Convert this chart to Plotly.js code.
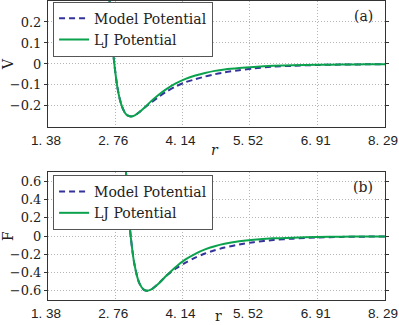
<!DOCTYPE html>
<html>
<head>
<meta charset="utf-8">
<script src="https://cdn.plot.ly/plotly-3.0.1.min.js"></script>
<style>
  html, body { margin: 0; padding: 0; background: #fff; }
  #grafico { width: 399px; height: 325px; }
</style>
</head>
<body>
<div id="grafico"></div>
<script>
// (a) potencial V(r)
const rV = [2.60, 2.65, 2.70, 2.74, 2.80, 2.85, 2.90, 2.95, 3.00, 3.08, 3.15, 3.25, 3.35, 3.50, 3.65,
            3.80, 4.00, 4.20, 4.40, 4.60, 4.80, 5.00, 5.30, 5.60, 6.00, 6.40, 6.90, 7.40, 7.90, 8.29];
const vLJ = [0.507, 0.271, 0.101, 0, -0.107, -0.166, -0.205, -0.230, -0.244, -0.250, -0.246, -0.230, -0.210, -0.177, -0.147,
             -0.121, -0.093, -0.071, -0.055, -0.043, -0.033, -0.026, -0.019, -0.014, -0.009, -0.006, -0.004, -0.003, -0.002, -0.001];
const vModel = [0.507, 0.271, 0.101, 0, -0.107, -0.166, -0.205, -0.230, -0.244, -0.250, -0.246, -0.230, -0.210, -0.183, -0.157,
                -0.133, -0.107, -0.087, -0.073, -0.060, -0.049, -0.040, -0.030, -0.021, -0.013, -0.009, -0.005, -0.003, -0.002, -0.0015];

// (b) fuerza F(r)
const rF = [2.90, 2.93, 2.96, 3.00, 3.04, 3.08, 3.15, 3.25, 3.35, 3.41, 3.50, 3.65, 3.80, 4.00,
            4.20, 4.40, 4.60, 4.80, 5.00, 5.30, 5.60, 6.00, 6.40, 6.90, 7.40, 7.90, 8.29];
const fLJ = [1.705, 1.267, 0.903, 0.512, 0.209, -0.023, -0.302, -0.512, -0.589, -0.599, -0.584, -0.518, -0.437, -0.337,
             -0.255, -0.193, -0.145, -0.110, -0.084, -0.057, -0.039, -0.024, -0.016, -0.009, -0.006, -0.004, -0.003];
const fModel = [1.705, 1.267, 0.903, 0.512, 0.209, -0.023, -0.302, -0.512, -0.589, -0.599, -0.584, -0.518, -0.437, -0.355,
                -0.290, -0.235, -0.190, -0.155, -0.125, -0.092, -0.066, -0.042, -0.027, -0.015, -0.008, -0.005, -0.003];

// ejes
const xTicks = [1.38, 2.76, 4.14, 5.52, 6.91, 8.29];
const xTickText = ["1. 38", "2. 76", "4. 14", "5. 52", "6. 91", "8. 29"];
const vTicks = [-0.2, -0.1, 0, 0.1, 0.2];
const fTicks = [-0.6, -0.4, -0.2, 0, 0.2, 0.4, 0.6];
const nombres = ["Model Potential", "LJ Potential"];

const colorModelo = "#33339a";
const colorLJ = "#0ba24e";
const serif = "DejaVu Serif, serif";

function curva(x, y, nombre, color, dash, ejeX, ejeY, leyenda) {
  return {
    x: x, y: y, name: nombre, type: "scatter", mode: "lines",
    xaxis: ejeX, yaxis: ejeY, legend: leyenda,
    line: { color: color, width: 2, dash: dash, shape: "spline", smoothing: 0.8 }
  };
}

const trazos = [
  curva(rV, vModel, nombres[0], colorModelo, "6px,4px", "x", "y", "legend"),
  curva(rV, vLJ, nombres[1], colorLJ, "solid", "x", "y", "legend"),
  curva(rF, fModel, nombres[0], colorModelo, "6px,4px", "x2", "y2", "legend2"),
  curva(rF, fLJ, nombres[1], colorLJ, "solid", "x2", "y2", "legend2")
];

const ejeX = (ancla) => ({
  anchor: ancla, range: [1.3799, 8.2901], tickmode: "array", tickvals: xTicks, ticktext: xTickText,
  tickfont: { family: "Liberation Sans, Arial, sans-serif", size: 13.5, color: "#222" },
  ticklabeloverflow: "allow", ticklabelstandoff: 1, ticklabelshift: -2,
  showgrid: true, gridcolor: "#b4b4b4", griddash: "1px,2px", gridwidth: 1,
  showline: true, linecolor: "#333", linewidth: 1, mirror: true,
  ticks: "", zeroline: false
});

const ejeY = (ancla, dominio, rango, ticks, texto) => ({
  anchor: ancla, domain: dominio, range: rango, tickmode: "array", tickvals: ticks,
  tickfont: { family: serif, size: 13, color: "#222" },
  showgrid: true, gridcolor: "#b4b4b4", griddash: "1px,2px", gridwidth: 1,
  showline: true, linecolor: "#333", linewidth: 1, mirror: "ticks",
  ticks: "outside", ticklen: 3, tickcolor: "#333", zeroline: false,
  title: { text: texto, font: { family: serif, size: 14, color: "#222" }, standoff: 1 }
});

const leyenda = (y) => ({
  x: 0.015, y: y, xanchor: "left", yanchor: "top",
  bgcolor: "#fff", bordercolor: "#555", borderwidth: 1,
  font: { family: serif, size: 14, color: "#222" },
  tracegroupgap: 0
});

const etiqueta = (texto, x, y) => ({
  text: texto, xref: "paper", yref: "paper", x: x, y: y,
  xanchor: "center", yanchor: "middle", showarrow: false,
  font: { family: serif, size: 14, color: "#222" }
});

const layout = {
  width: 399, height: 325,
  margin: { l: 48, r: 14, t: 1, b: 25 },
  paper_bgcolor: "#fff", plot_bgcolor: "#fff",
  showlegend: true,
  xaxis: ejeX("y"),
  xaxis2: ejeX("y2"),
  yaxis: ejeY("x", [0.579, 1], [-0.3, 0.3], vTicks, "V"),
  yaxis2: ejeY("x2", [0, 0.427], [-0.7, 0.7], fTicks, "F"),
  legend: leyenda(0.998),
  legend2: leyenda(0.418),
  annotations: [
    etiqueta("(a)", 0.935, 0.951),
    etiqueta("(b)", 0.935, 0.379),
    etiqueta("<i>r</i>", 0.497, 0.502),
    etiqueta("r", 0.505, -0.052)
  ]
};

Plotly.newPlot("grafico", trazos, layout, { staticPlot: true });
</script>
</body>
</html>
